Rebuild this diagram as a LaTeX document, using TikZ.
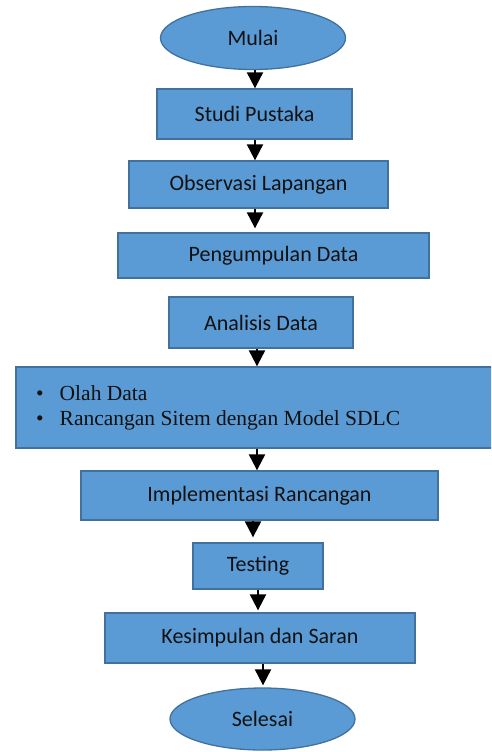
\documentclass[tikz,border=0pt]{standalone}
\usepackage{fontspec}
\setmainfont{Carlito}
\newfontfamily\serifbul{Liberation Serif}
\usetikzlibrary{shapes.geometric,arrows.meta,calc}
\definecolor{boxfill}{HTML}{5B9BD5}
\definecolor{boxline}{HTML}{41719C}
\definecolor{txt}{HTML}{111111}
\begin{document}
\begin{tikzpicture}[x=1pt,y=-1pt,
  base/.style={draw=boxline,fill=boxfill,line width=1.3pt,inner sep=0pt,
    text=txt,font=\fontsize{22}{26}\selectfont},
  stepbox/.style={base,rectangle},
  termbox/.style={base,ellipse},
  arr/.style={line width=2pt,-{Triangle[length=16pt,width=16pt]}}]
\useasboundingbox (0,0) rectangle (491,752);
\clip (0,0) rectangle (491,752);
\node[termbox,minimum width=185pt,minimum height=63pt] (mulai) at (253,38) {Mulai};
\node[stepbox,minimum width=195pt,minimum height=50pt] (studi) at (254.5,114) {Studi Pustaka};
\node[stepbox,minimum width=259pt,minimum height=47pt] (obs) at (258.5,184.5) {Observasi Lapangan};
\node[stepbox,minimum width=311pt,minimum height=45pt] (peng) at (273.5,255.5) {Pengumpulan Data};
\node[stepbox,minimum width=184pt,minimum height=51pt] (anal) at (261,322.5) {Analisis Data};
\node[stepbox,minimum width=480pt,minimum height=81pt] (olah) at (256,407.5) {};
\node[anchor=west,text=txt,inner sep=0pt,align=left,font=\serifbul\fontsize{21.5}{25}\selectfont] (olahtxt) at (36,408)
  {\textbullet\hspace{16pt}Olah Data\\\textbullet\hspace{16pt}Rancangan Sitem dengan Model SDLC};
\node[stepbox,minimum width=357pt,minimum height=49pt] (impl) at (259.5,495.5) {Implementasi Rancangan};
\node[stepbox,minimum width=130pt,minimum height=46pt] (test) at (258,566) {Testing};
\node[stepbox,minimum width=310pt,minimum height=50pt] (kes) at (260,638) {Kesimpulan dan Saran};
\node[termbox,minimum width=185pt,minimum height=62pt] (sel) at (262.5,719) {Selesai};

\draw[arr] ([xshift=2pt]mulai.south) -- ([xshift=2pt]mulai.south |- studi.north);
\draw[arr] ([xshift=0.5pt]studi.south) -- ([xshift=0.5pt]studi.south |- obs.north);
\draw[arr] ([xshift=-3.5pt]obs.south) -- ($([xshift=-3.5pt]obs.south |- peng.north)+(0,-4)$);
\draw[arr] ([xshift=-4pt]anal.south) -- ([xshift=-4pt]anal.south |- olah.north);
\draw[arr] ([xshift=1pt]olah.south) -- ([xshift=1pt]olah.south |- impl.north);
\draw[arr] ([xshift=-6.5pt]impl.south) -- ($([xshift=-6.5pt]impl.south |- test.north)+(0,-5)$);
\draw[arr] (test.south) -- ($(test.south |- kes.north)+(0,-2)$);
\draw[arr] ([xshift=3pt]kes.south) -- ($([xshift=3pt]kes.south |- sel.north)+(0,-2)$);
\end{tikzpicture}
\end{document}
